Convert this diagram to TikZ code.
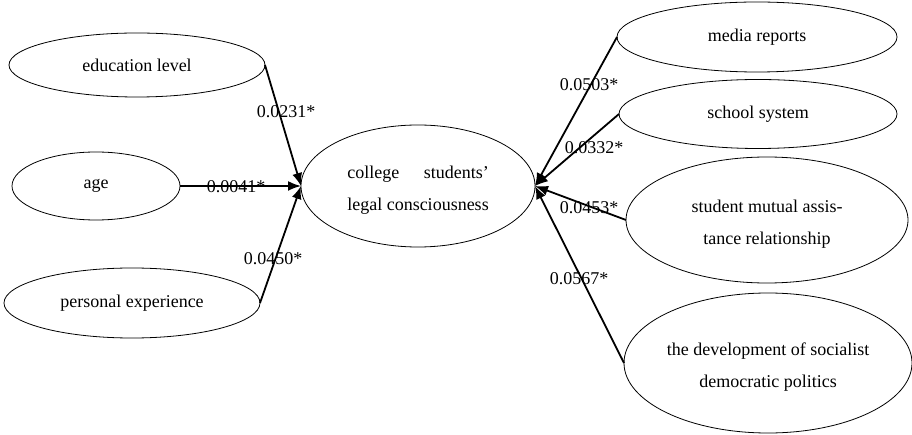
\documentclass[tikz,border=0pt]{standalone}
\usepackage{fontspec}
\setmainfont{Liberation Serif}
\usepackage{calc}
\usetikzlibrary{shapes.geometric,arrows.meta}
\newcommand{\uplift}{\rule{0pt}{21pt}}
\begin{document}
\begin{tikzpicture}[x=1pt,y=-1pt,
  oval/.style={draw,ellipse,inner sep=0pt,outer sep=0pt,line width=0.8pt,
    font=\fontsize{18}{32}\selectfont,align=center},
  arr/.style={line width=1.8pt,-{Latex[length=13pt,width=10pt]}},
  coef/.style={font=\fontsize{18}{20}\selectfont,inner sep=0pt}]
\useasboundingbox (0,0) rectangle (912,435);
% left factors
\node[oval,minimum width=256pt,minimum height=64pt] (edu) at (137,65) {education level};
\node[oval,minimum width=168pt,minimum height=68pt] (age) at (96,186) {age};
\node[oval,minimum width=256pt,minimum height=70pt] (exp) at (132,303) {personal experience};
% centre
\node[oval,minimum width=234pt,minimum height=122pt] (core) at (418,186)
  {\uplift\makebox[\widthof{legal consciousness}][s]{college\hfill students’}\\legal consciousness};
% right factors
\node[oval,minimum width=280pt,minimum height=70pt] (media) at (757,37) {media reports};
\node[oval,minimum width=278pt,minimum height=69pt] (school) at (758,114) {school system};
\node[oval,minimum width=282pt,minimum height=126pt] (mutual) at (767,220) {\uplift student mutual assis-\\tance relationship};
\node[oval,minimum width=288pt,minimum height=140pt] (dev) at (768,363) {\uplift the development of socialist\\democratic politics};
% connectors
\draw[arr] (edu.east) -- (core.west);
\draw[arr] (age.east) -- (core.west);
\draw[arr] (exp.east) -- (core.west);
\draw[arr] (media.west) -- (core.east);
\draw[arr] (school.west) -- (core.east);
\draw[arr] (mutual.west) -- (core.east);
\draw[arr] (dev.west) -- (core.east);
% coefficients
\node[coef] (c1) at (286,112) {0.0231*};
\node[coef] (c2) at (236,187) {0.0041*};
\node[coef] (c3) at (273,259) {0.0450*};
\node[coef] (c4) at (589,85) {0.0503*};
\node[coef] (c5) at (594,148) {0.0332*};
\node[coef] (c6) at (589,208) {0.0453*};
\node[coef] (c7) at (579,279) {0.0567*};
\end{tikzpicture}
\end{document}
